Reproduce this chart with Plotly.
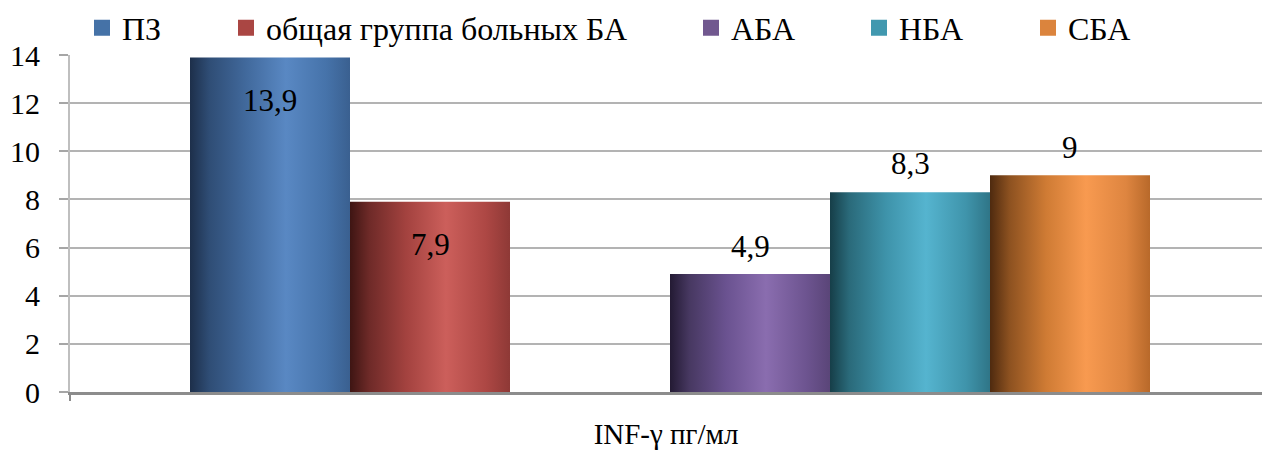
import plotly.graph_objects as go

# --- data -------------------------------------------------------------
series = ["ПЗ", "общая группа больных БА", "АБА", "НБА", "СБА"]
values = [13.9, 7.9, 4.9, 8.3, 9.0]
value_labels = ["13,9", "7,9", "4,9", "8,3", "9"]
x_title = "INF-γ пг/мл"
y_ticks = [0, 2, 4, 6, 8, 10, 12, 14]

# --- styling ----------------------------------------------------------
W, H = 1262, 454
FONT = "Liberation Serif"

# slot index of every bar inside the single category (slot 2 stays empty)
slots = [0, 1, 3, 4, 5]
bar_w = 1.0

legend_colors = ["#4572a7", "#aa4643", "#71588f", "#4198af", "#db843d"]
gradients = [
    [[0, "#1d2f4a"], [0.12, "#2f4d75"], [0.35, "#41699c"], [0.6, "#5988c3"], [0.85, "#4673aa"], [1, "#3a6090"]],
    [[0, "#3e1513"], [0.12, "#6e2a28"], [0.35, "#a3423f"], [0.6, "#cc5f5b"], [0.85, "#ad4744"], [1, "#8e3936"]],
    [[0, "#231a33"], [0.12, "#473861"], [0.35, "#6a5290"], [0.6, "#8a6daf"], [0.85, "#6d5490"], [1, "#5a4578"]],
    [[0, "#163e48"], [0.12, "#2a6a7a"], [0.35, "#3e93aa"], [0.6, "#55b4cf"], [0.85, "#3f94ab"], [1, "#2f7587"]],
    [[0, "#4e2a0f"], [0.12, "#8c5120"], [0.35, "#cf7b34"], [0.6, "#f89a50"], [0.85, "#de8540"], [1, "#b8692a"]],
]
# label offsets in px from the bar top (negative = inside the bar)
label_shift = [-43, -43, 28, 29, 28]
# left edge (px) of each legend entry
legend_left_px = [82, 226, 691, 859, 1028]

x_min, x_max = -1.25, 6.2

label_font = dict(family=FONT, size=31, color="black")
legend_font = dict(family=FONT, size=32, color="black")
tick_font = dict(family=FONT, size=30, color="black")
title_font = dict(family=FONT, size=29, color="black")

fig = go.Figure()

for i, (name, v) in enumerate(zip(series, values)):
    c = slots[i]
    x0, x1 = c - bar_w / 2, c + bar_w / 2
    fig.add_trace(go.Scatter(
        x=[x0, x0, x1, x1, x0],
        y=[0, v, v, 0, 0],
        mode="lines",
        line=dict(width=0),
        fill="toself",
        fillgradient=dict(type="horizontal", colorscale=gradients[i]),
        hoverinfo="skip",
        showlegend=False,
    ))
    # legend entry
    lg = "legend" if i == 0 else f"legend{i + 1}"
    fig.add_trace(go.Scatter(
        x=[None], y=[None], mode="markers", name=name,
        marker=dict(symbol="square", size=16, color=legend_colors[i]),
        legend=lg,
    ))
    fig.add_annotation(
        x=c, y=v, xref="x", yref="y", text=value_labels[i],
        showarrow=False, yshift=label_shift[i],
        font=label_font,
    )

legends = {}
for i in range(len(series)):
    key = "legend" if i == 0 else f"legend{i + 1}"
    legends[key] = dict(
        x=legend_left_px[i] / W, y=1 - 28 / H,
        xref="container", yref="container",
        xanchor="left", yanchor="middle",
        orientation="h", bgcolor="rgba(0,0,0,0)",
        font=legend_font,
        itemsizing="trace",
    )

fig.update_layout(
    width=W, height=H,
    margin=dict(l=70, r=0, t=55, b=62, autoexpand=False),
    paper_bgcolor="white", plot_bgcolor="white",
    **legends,
)

fig.update_xaxes(
    range=[x_min, x_max],
    showgrid=False, zeroline=False,
    showline=True, linecolor="#8c8c8c", linewidth=2.5,
    tickmode="array", tickvals=[x_min], ticks="outside",
    ticklen=6, tickcolor="#8c8c8c", tickwidth=1.5,
    showticklabels=False,
    title=dict(text=x_title, font=title_font, standoff=24),
)
fig.update_yaxes(
    range=[0, 14],
    tickmode="array", tickvals=y_ticks,
    showgrid=True, gridcolor="#b3b3b3", gridwidth=2,
    zeroline=False,
    showline=True, linecolor="#bfbfbf", linewidth=2,
    ticks="outside", ticklen=9, tickcolor="#a6a6a6", tickwidth=1.5,
    ticklabelstandoff=13,
    tickfont=tick_font,
)

fig.write_html("out.html")
